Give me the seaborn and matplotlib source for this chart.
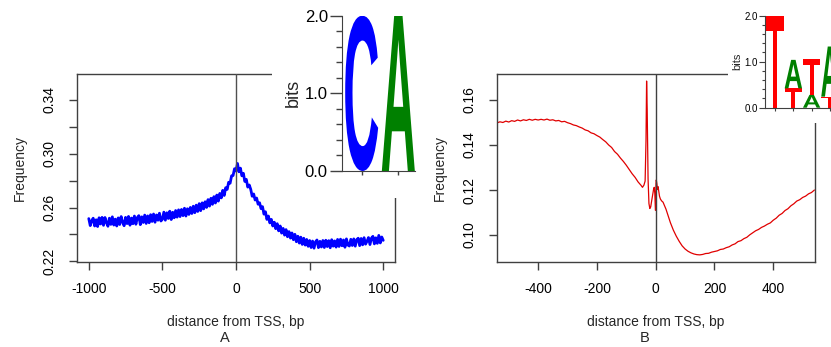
import numpy as np
import pandas as pd
import seaborn as sns
import matplotlib
matplotlib.use('Agg')
import matplotlib.pyplot as plt
from matplotlib.ticker import MultipleLocator, FormatStrFormatter
from matplotlib.textpath import TextPath
from matplotlib.font_manager import FontProperties
from matplotlib.patches import PathPatch, Rectangle
from matplotlib.transforms import Affine2D

# panel A: frequency of CA around TSS, one value every 10 bp from -1000 to 1000
a_x = np.arange(-1000, 1001, 10)
a_y = [
    .2518, .2466, .2502, .2521, .2463, .2509, .2459, .2524, .2478, .2527,
    .2468, .2526, .2489, .2461, .2521, .2475, .2531, .2470, .2514, .2463,
    .2523, .2474, .2533, .2490, .2465, .2527, .2481, .2534, .2469, .2522,
    .2480, .2537, .2476, .2526, .2540, .2473, .2531, .2489, .2544, .2482,
    .2538, .2487, .2547, .2497, .2552, .2491, .2545, .2506, .2558, .2500,
    .2513, .2566, .2506, .2561, .2519, .2573, .2511, .2565, .2524, .2578,
    .2529, .2583, .2533, .2586, .2540, .2595, .2537, .2591, .2549, .2601,
    .2556, .2610, .2562, .2618, .2571, .2629, .2577, .2635, .2590, .2643,
    .2601, .2659, .2611, .2669, .2624, .2681, .2634, .2693, .2648, .2705,
    .2672, .2728, .2690, .2748, .2735, .2788, .2781, .2836, .2838, .2889,
    .2872, .2928, .2866, .2893, .2836, .2855, .2794, .2810, .2752, .2768,
    .2736, .2684, .2701, .2656, .2671, .2625, .2636, .2592, .2607, .2551,
    .2569, .2512, .2537, .2486, .2512, .2463, .2491, .2443, .2480, .2427,
    .2463, .2410, .2445, .2395, .2436, .2383, .2421, .2373, .2411, .2361,
    .2401, .2346, .2387, .2336, .2380, .2326, .2372, .2321, .2363, .2312,
    .2355, .2303, .2351, .2298, .2345, .2359, .2302, .2349, .2307, .2355,
    .2303, .2357, .2310, .2354, .2301, .2361, .2313, .2352, .2306, .2363,
    .2311, .2365, .2316, .2359, .2305, .2367, .2321, .2314, .2364, .2318,
    .2367, .2313, .2361, .2372, .2317, .2370, .2323, .2376, .2328, .2350,
    .2377, .2325, .2373, .2386, .2330, .2375, .2334, .2393, .2337, .2381,
    .2356,
]

# panel B: frequency of TATA-like motif around TSS
b_x = [-540, -530, -520, -510, -500, -490, -480, -470, -460, -450,
       -440, -430, -420, -410, -400, -390, -380, -370, -360, -350,
       -340, -330, -320, -310, -300, -290, -280, -270, -260, -250,
       -240, -230, -220, -210, -200, -190, -180, -170, -160, -150,
       -140, -130, -120, -110, -100, -90, -80, -70, -60, -50,
       -45, -40, -36, -33, -31, -29, -26, -23, -20, -17,
       -14, -10, -7, -5, -3, -1, 0, 1, 2, 4,
       6, 8, 10, 13, 16, 20, 25, 30, 35, 40,
       45, 50, 60, 70, 80, 90, 100, 110, 120, 130,
       140, 150, 160, 170, 180, 190, 200, 210, 220, 230,
       240, 250, 260, 270, 280, 290, 300, 310, 320, 330,
       340, 350, 360, 370, 380, 390, 400, 410, 420, 430,
       440, 450, 460, 470, 480, 490, 500, 510, 520, 530, 540]
b_y = [.1498, .1503, .1500, .1506, .1502, .1508, .1505, .1511, .1507, .1512,
       .1509, .1514, .1510, .1514, .1511, .1514, .1511, .1515, .1510, .1512,
       .1507, .1509, .1503, .1505, .1499, .1495, .1489, .1486, .1480, .1475,
       .1467, .1463, .1454, .1450, .1442, .1435, .1424, .1414, .1400, .1389,
       .1371, .1359, .1342, .1327, .1310, .1291, .1272, .1256, .1236, .1221,
       .1212, .1222, .1240, .1420, .1684, .1560, .1250, .1140, .1118, .1125,
       .1150, .1180, .1205, .1212, .1185, .1110, .1112, .1230, .1245, .1228,
       .1202, .1215, .1198, .1172, .1160, .1152, .1146, .1130, .1115, .1095,
       .1075, .1055, .1022, .0995, .0972, .0952, .0938, .0928, .0921, .0916,
       .0913, .0912, .0914, .0918, .0919, .0924, .0927, .0930, .0936, .0938,
       .0944, .0948, .0956, .0961, .0971, .0975, .0984, .0990, .1001, .1010,
       .1019, .1025, .1034, .1040, .1048, .1054, .1066, .1075, .1088, .1096,
       .1109, .1117, .1130, .1139, .1151, .1157, .1167, .1173, .1183, .1189, .1200]

# sequence logos: letters stacked bottom to top at each position, heights in bits
logo_a_letters = [['C'], ['A']]
logo_a_heights = [[2.0], [2.0]]
logo_b_letters = [['T'], ['T', 'A'], ['A', 'T'], ['T', 'A']]
logo_b_heights = [[2.0], [0.42, 0.62], [0.28, 0.77], [0.24, 1.09]]
letter_colors = {'A': '#008000', 'C': '#0000ff', 'G': '#ffb300', 'T': '#ff0000'}

sns.set_style('ticks')
plt.rcParams['font.family'] = ['Liberation Sans', 'DejaVu Sans']
plt.rcParams['axes.unicode_minus'] = False
plt.rcParams['axes.edgecolor'] = '#404040'
plt.rcParams['xtick.color'] = '#404040'
plt.rcParams['ytick.color'] = '#404040'
plt.rcParams['xtick.labelcolor'] = 'black'
plt.rcParams['ytick.labelcolor'] = 'black'

W, H = 831, 347
fig = plt.figure(figsize=(W / 100, H / 100), dpi=100)


def px(x0, y0, x1, y1):
    # pixel box (top-left origin) -> figure fraction rect
    return [x0 / W, 1 - y1 / H, (x1 - x0) / W, (y1 - y0) / H]


def draw_logo(ax, letters, heights, width):
    font = FontProperties(family='Liberation Sans', weight='bold')
    for i, (lets, hs) in enumerate(zip(letters, heights)):
        pos = i + 1
        bottom = 0.0
        for let, h in zip(lets, hs):
            tp = TextPath((0, 0), let, size=1, prop=font)
            bb = tp.get_extents()
            tr = (Affine2D().translate(-bb.x0, -bb.y0)
                  .scale(width / bb.width, h / bb.height)
                  .translate(pos - width / 2, bottom))
            ax.add_patch(PathPatch(tp, transform=tr + ax.transData,
                                   facecolor=letter_colors[let], edgecolor='none'))
            bottom += h


def style_main(ax):
    for s in ax.spines.values():
        s.set_linewidth(1.0)
    ax.tick_params(axis='both', length=6, width=1, labelsize=10, pad=8.5)
    ax.tick_params(axis='y', which='both', labelrotation=90)
    ax.tick_params(axis='y', which='minor', length=6, width=1)
    for lab in ax.get_yticklabels():
        lab.set_va('center')
    ax.set_xlabel('')
    ax.set_ylabel('')


# ---------------- panel A ----------------
axA = fig.add_axes(px(77, 74.3, 395, 262.3))
sns.lineplot(x=a_x, y=a_y, ax=axA, color='#0000ff', linewidth=2.0, errorbar=None)
axA.axvline(0, color='#505050', linewidth=1.0, zorder=3)
axA.set_xlim(-1080, 1080)
axA.set_ylim(0.2193, 0.3591)
axA.set_xticks([-1000, -500, 0, 500, 1000])
axA.set_yticks([0.22, 0.26, 0.30, 0.34])
axA.yaxis.set_minor_locator(MultipleLocator(0.02))
axA.yaxis.set_major_formatter(FormatStrFormatter('%.2f'))
style_main(axA)

# ---------------- panel B ----------------
axB = fig.add_axes(px(496.7, 74.3, 815, 262.3))
sns.lineplot(x=b_x, y=b_y, ax=axB, color='#e00000', linewidth=0.9, errorbar=None)
axB.axvline(0, color='#404040', linewidth=1.0, zorder=3)
axB.set_xlim(-541, 542)
axB.set_ylim(0.0879, 0.1714)
axB.set_xticks([-400, -200, 0, 200, 400])
axB.set_yticks([0.10, 0.12, 0.14, 0.16])
axB.yaxis.set_major_formatter(FormatStrFormatter('%.2f'))
style_main(axB)

# white panels that the logos sit on (they hide the top-right of each frame)
for x0, y1, x1 in [(272, 198, 425), (728, 123, 831)]:
    fig.patches.append(Rectangle((x0 / W, 1 - y1 / H), (x1 - x0) / W, y1 / H,
                                 transform=fig.transFigure, facecolor='white',
                                 edgecolor='none', zorder=1))

# ---------------- logo A ----------------
insA = fig.add_axes(px(341.7, 15.7, 415, 171), zorder=2)
insA.patch.set_alpha(0)
draw_logo(insA, logo_a_letters, logo_a_heights, 0.9)
insA.set_xlim(0.455, 2.455)
insA.set_ylim(0, 2)
insA.spines[['top', 'right']].set_visible(False)
insA.set_xticks([1, 2])
insA.set_xticklabels([])
insA.set_yticks([0, 1, 2])
insA.set_yticklabels(['0.0', '1.0', '2.0'])
insA.yaxis.set_minor_locator(MultipleLocator(0.2))
insA.tick_params(axis='y', which='major', length=9, width=1, labelsize=12, pad=1)
insA.tick_params(axis='y', which='minor', length=4, width=1)
insA.tick_params(axis='x', length=3, width=1)
insA.set_ylabel('bits', fontsize=13, labelpad=2)

# ---------------- logo B ----------------
insB = fig.add_axes(px(765, 15.7, 840, 107.7), zorder=2)
insB.patch.set_alpha(0)
draw_logo(insB, logo_b_letters, logo_b_heights, 0.95)
insB.set_xlim(0.45, 4.55)
insB.set_ylim(0, 2)
insB.spines[['top', 'right']].set_visible(False)
insB.set_xticks([1, 2, 3, 4])
insB.set_xticklabels([])
insB.set_yticks([0, 1, 2])
insB.set_yticklabels(['0.0', '1.0', '2.0'])
insB.yaxis.set_minor_locator(MultipleLocator(0.2))
insB.tick_params(axis='y', which='major', length=4, width=0.8, labelsize=7, pad=1)
insB.tick_params(axis='y', which='minor', length=2, width=0.8)
insB.tick_params(axis='x', length=2, width=0.8)
insB.set_ylabel('bits', fontsize=8, labelpad=2)

# labels
for cx, fx, letter in [(236, 225, 'A'), (656, 645, 'B')]:
    fig.text(cx / W, 1 - 321.7 / H, 'distance from TSS, bp', ha='center', va='center', fontsize=10)
    fig.text(fx / W, 1 - 338 / H, letter, ha='center', va='center', fontsize=10.5)
fig.text(20 / W, 1 - 168 / H, 'Frequency', rotation=90, ha='center', va='center', fontsize=10)
fig.text(440 / W, 1 - 168 / H, 'Frequency', rotation=90, ha='center', va='center', fontsize=10)

fig.savefig('out.png', dpi=100)
